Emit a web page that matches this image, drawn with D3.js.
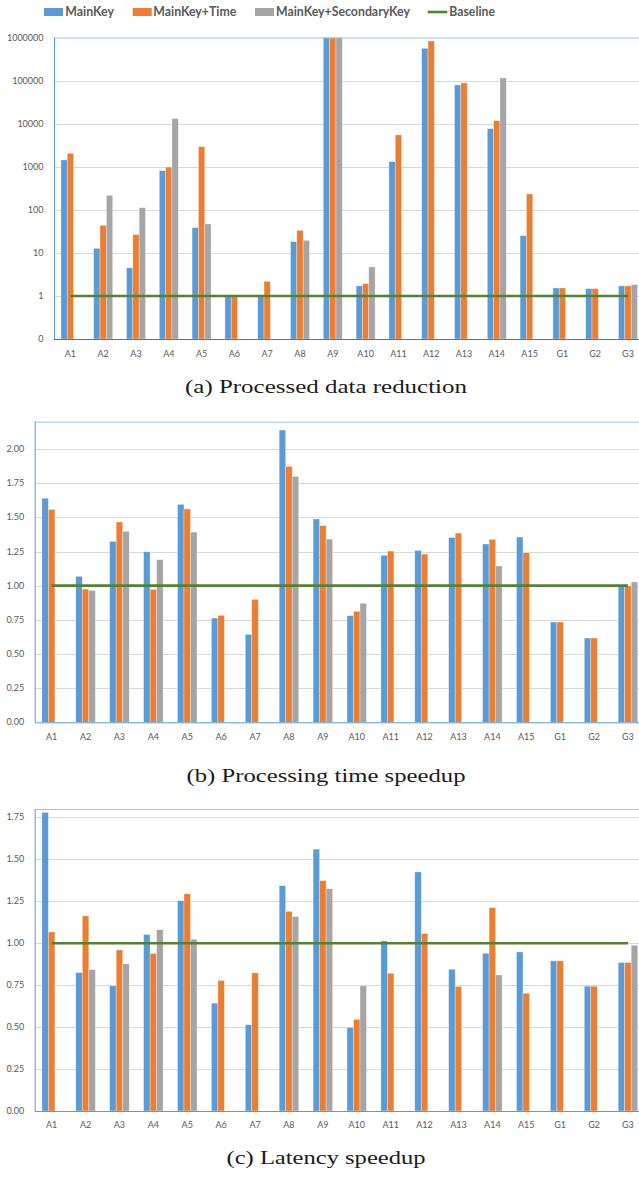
<!DOCTYPE html>
<html>
<head>
<meta charset="utf-8">
<script src="https://cdn.jsdelivr.net/npm/d3@7"></script>
<style>
  html, body { margin: 0; padding: 0; background: #fff; }
  svg { display: block; }
  .caption { font-family: "Liberation Serif", "Times New Roman", "DejaVu Serif", serif; }
</style>
</head>
<body>
<svg id="chart" width="639" height="1177"></svg>
<script>
// Workload categories shared by all three panels
const categories = ["A1","A2","A3","A4","A5","A6","A7","A8","A9","A10","A11","A12","A13","A14","A15","G1","G2","G3"];
const seriesNames = ["MainKey", "MainKey+Time", "MainKey+SecondaryKey"];
const seriesColors = ["#5b9bd5", "#ed7d31", "#a5a5a5"];
const baselineName = "Baseline";
const baselineColor = "#548235";
const baselineValue = 1;

// (a) Processed data reduction (log scale)
const reductionMainKey = [1440, 12.7, 4.5, 811, 38.5, 1.0, 1.0, 18.2, 1000000, 1.71, 1313, 561000, 79200, 7660, 25.1, 1.53, 1.48, 1.71];
const reductionTime    = [2050, 43.6, 26.5, 980, 2930, 1.0, 2.18, 33.3, 1000000, 1.93, 5470, 832000, 88200, 11750, 233, 1.53, 1.48, 1.71];
const reductionSecKey  = [null, 217, 112, 13100, 46.9, null, null, 19.5, 1000000, 4.71, null, null, null, 115000, null, null, null, 1.83];
const reductionTicks = [0.1, 1, 10, 100, 1000, 10000, 100000, 1000000];
const reductionTickLabels = ["0", "1", "10", "100", "1000", "10000", "100000", "1000000"];

// (b) Processing time speedup
const procMainKey = [1.64, 1.068, 1.324, 1.248, 1.595, 0.763, 0.644, 2.139, 1.488, 0.780, 1.222, 1.258, 1.353, 1.305, 1.356, 0.734, 0.617, 0.995];
const procTime    = [1.558, 0.975, 1.466, 0.973, 1.561, 0.783, 0.900, 1.873, 1.439, 0.812, 1.253, 1.231, 1.385, 1.339, 1.241, 0.734, 0.617, 0.998];
const procSecKey  = [null, 0.966, 1.397, 1.19, 1.392, null, null, 1.80, 1.341, 0.871, null, null, null, 1.144, null, null, null, 1.027];
const procTicks = [0, 0.25, 0.5, 0.75, 1.0, 1.25, 1.5, 1.75, 2.0];

// (c) Latency speedup
const latMainKey = [1.78, 0.825, 0.746, 1.052, 1.254, 0.643, 0.514, 1.343, 1.561, 0.498, 1.014, 1.425, 0.845, 0.940, 0.948, 0.895, 0.744, 0.885];
const latTime    = [1.067, 1.163, 0.960, 0.939, 1.294, 0.778, 0.823, 1.190, 1.373, 0.546, 0.821, 1.058, 0.742, 1.212, 0.702, 0.895, 0.744, 0.885];
const latSecKey  = [null, 0.843, 0.877, 1.081, 1.024, null, null, 1.159, 1.325, 0.746, null, null, null, 0.811, null, null, null, 0.988];
const latTicks = [0, 0.25, 0.5, 0.75, 1.0, 1.25, 1.5, 1.75];

const svg = d3.select("#chart");
const labelColor = "#595959";
const tickFont = "Lato, 'Open Sans', sans-serif";

function drawPanel(p) {
  const g = svg.append("g");
  const x = d3.scaleBand()
    .domain(categories)
    .range([p.left, p.left + p.band * categories.length])
    .paddingInner(0).paddingOuter(0);
  const sub = d3.scaleBand()
    .domain(seriesNames)
    .range([0, x.bandwidth()])
    .paddingInner(0).paddingOuter(p.outerPad);

  const y = p.log
    ? d3.scaleLog().domain(p.domain).range([p.bottom, p.top])
    : d3.scaleLinear().domain(p.domain).range([p.bottom, p.top]);

  // gridlines
  g.append("g").selectAll("line")
    .data(p.ticks.filter(t => y(t) < p.bottom - 1 && y(t) > p.top + 1))
    .join("line")
    .attr("x1", p.left).attr("x2", 639)
    .attr("y1", d => Math.round(y(d)) + 0.5).attr("y2", d => Math.round(y(d)) + 0.5)
    .attr("stroke", "#d9d9d9").attr("stroke-width", 1);

  // y tick labels
  g.append("g").selectAll("text")
    .data(p.ticks)
    .join("text")
    .attr("x", p.left - 10.5)
    .attr("y", d => y(d))
    .attr("dy", "0.34em")
    .attr("text-anchor", "end")
    .attr("font-family", tickFont)
    .attr("font-size", 9)
    .attr("fill", labelColor)
    .text((d, i) => p.tickLabels ? p.tickLabels[i] : d3.format(".2f")(d));

  // bars
  const base = y(p.log ? p.domain[0] : 0);
  p.series.forEach((vals, si) => {
    g.append("g").selectAll("rect")
      .data(vals.map((v, i) => ({ c: categories[i], v })).filter(d => d.v != null))
      .join("rect")
      .attr("x", d => x(d.c) + sub(seriesNames[si]))
      .attr("width", sub.bandwidth())
      .attr("y", d => Math.max(p.top, y(d.v)))
      .attr("height", d => base - Math.max(p.top, y(d.v)))
      .attr("fill", seriesColors[si])
      .attr("stroke", "#ffffff")
      .attr("stroke-opacity", 0.55)
      .attr("stroke-width", 0.6);
  });

  // plot frame and axes
  g.append("line")
    .attr("x1", p.left).attr("x2", 639)
    .attr("y1", p.top + 0.5).attr("y2", p.top + 0.5)
    .attr("stroke", "#9dc3e6").attr("stroke-width", 1);
  g.append("line")
    .attr("x1", p.left + 0.5).attr("x2", p.left + 0.5)
    .attr("y1", p.top).attr("y2", p.bottom)
    .attr("stroke", "#5b9bd5").attr("stroke-width", 1);
  g.append("line")
    .attr("x1", p.left).attr("x2", 639)
    .attr("y1", p.bottom + 0.5).attr("y2", p.bottom + 0.5)
    .attr("stroke", p.log ? "#4472c4" : "#5b9bd5").attr("stroke-width", 1);

  // baseline
  const first = categories[0], last = categories[categories.length - 1];
  g.append("line")
    .attr("x1", x(first) + x.bandwidth() / 2)
    .attr("x2", x(last) + x.bandwidth() / 2)
    .attr("y1", y(baselineValue)).attr("y2", y(baselineValue))
    .attr("stroke", baselineColor).attr("stroke-width", 2.6);

  // category labels
  g.append("g").selectAll("text")
    .data(categories)
    .join("text")
    .attr("x", d => x(d) + x.bandwidth() / 2)
    .attr("y", p.labelY)
    .attr("text-anchor", "middle")
    .attr("font-family", tickFont)
    .attr("font-size", 9)
    .attr("fill", labelColor)
    .text(d => d);

  // caption
  svg.append("text")
    .attr("class", "caption")
    .attr("x", 326)
    .attr("y", p.captionY)
    .attr("text-anchor", "middle")
    .attr("font-size", 18.5)
    .attr("fill", "#1a1a1a")
    .attr("textLength", p.captionWidth)
    .attr("lengthAdjust", "spacingAndGlyphs")
    .text(p.caption);
}

// legend
const legendItems = [
  { name: seriesNames[0], color: seriesColors[0], sx: 44, tx: 65.3, w: 48.7 },
  { name: seriesNames[1], color: seriesColors[1], sx: 132.7, tx: 153.3, w: 83 },
  { name: seriesNames[2], color: seriesColors[2], sx: 255, tx: 276, w: 134 },
];
const lg = svg.append("g");
legendItems.forEach(it => {
  lg.append("rect").attr("x", it.sx).attr("y", 8).attr("width", 19).attr("height", 8).attr("fill", it.color);
  lg.append("text").attr("x", it.tx).attr("y", 16)
    .attr("font-family", "Lato, 'Open Sans', sans-serif").attr("font-weight", "bold")
    .attr("font-size", 13).attr("fill", labelColor)
    .attr("textLength", it.w).attr("lengthAdjust", "spacingAndGlyphs")
    .text(it.name);
});
lg.append("line").attr("x1", 427.7).attr("x2", 447.3).attr("y1", 12).attr("y2", 12)
  .attr("stroke", baselineColor).attr("stroke-width", 2.6);
lg.append("text").attr("x", 449.3).attr("y", 16)
  .attr("font-family", "Lato, 'Open Sans', sans-serif").attr("font-weight", "bold")
  .attr("font-size", 13).attr("fill", labelColor)
  .attr("textLength", 45.7).attr("lengthAdjust", "spacingAndGlyphs")
  .text(baselineName);

drawPanel({
  log: true, domain: [0.1, 1000000], ticks: reductionTicks, tickLabels: reductionTickLabels,
  left: 54, band: 32.8, top: 37.5, bottom: 339, outerPad: 1.09,
  series: [reductionMainKey, reductionTime, reductionSecKey],
  labelY: 356.5, captionY: 393, caption: "(a) Processed data reduction", captionWidth: 282
});
drawPanel({
  log: false, domain: [0, 2.2], ticks: procTicks,
  left: 34.7, band: 33.9, top: 421.7, bottom: 722.3, outerPad: 1.1,
  series: [procMainKey, procTime, procSecKey],
  labelY: 740, captionY: 781.5, caption: "(b) Processing time speedup", captionWidth: 279
});
drawPanel({
  log: false, domain: [0, 1.8], ticks: latTicks,
  left: 34.7, band: 33.9, top: 809, bottom: 1111, outerPad: 1.1,
  series: [latMainKey, latTime, latSecKey],
  labelY: 1128, captionY: 1164, caption: "(c) Latency speedup", captionWidth: 199
});
</script>
</body>
</html>
